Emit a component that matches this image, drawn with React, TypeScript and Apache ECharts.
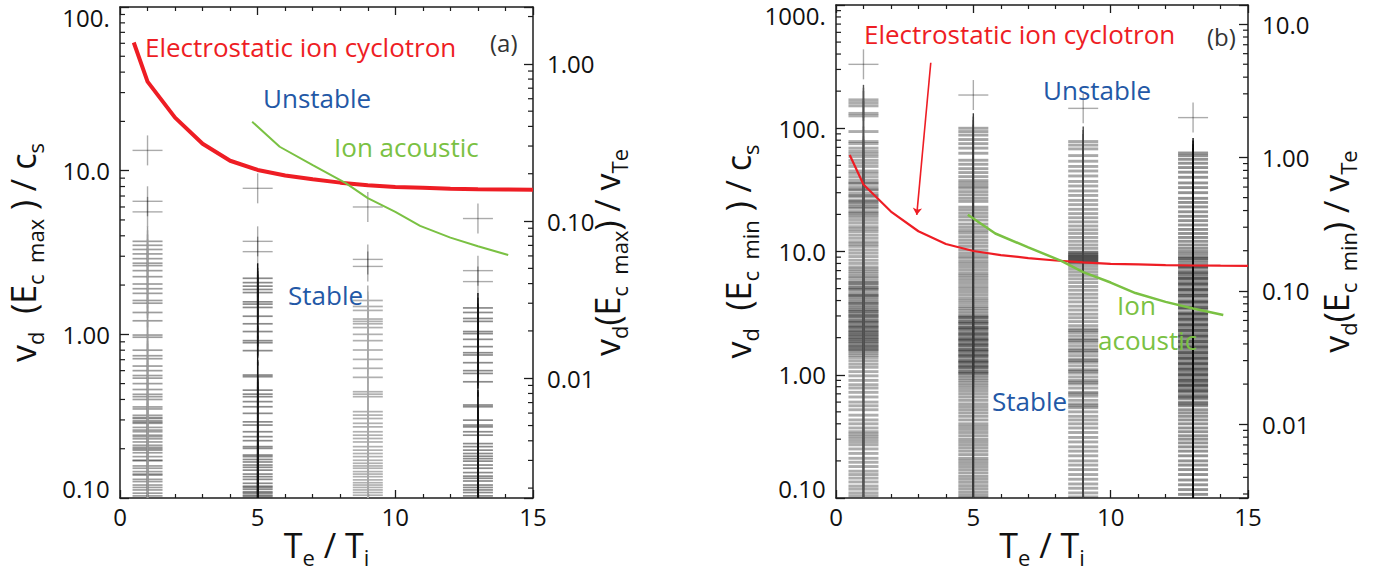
import React, { useEffect, useRef } from 'react';
import * as echarts from 'echarts';

const FONT = '"Open Sans", "Noto Sans", sans-serif';
const RED = '#ee1d24';
const BLUE = '#2358a6';
const GREEN = '#7ac143';

// ---------------- curves (shared by both panels) ----------------
const ecicX = [0.5, 1, 2, 3, 4, 5, 6, 7, 8, 9, 10, 11, 12, 13, 14, 15];
const ecicY = [60.7, 35, 21.1, 14.6, 11.5, 10.1, 9.35, 8.85, 8.45, 8.15, 7.95, 7.85, 7.75, 7.7, 7.67, 7.65];
const iaX = [4.8, 5.8, 7.0, 8.2, 9.0, 10.0, 10.9, 12.0, 13.0, 14.1];
const iaY = [19.9, 14.0, 10.8, 8.4, 6.8, 5.6, 4.6, 3.9, 3.45, 3.05];

// arrow in panel (b): [x, y] start and tip
const arrowB = [[3.45, 340], [2.94, 19.8]];

// ---------------- columns of crosses ----------------
const colX = [1, 5, 9, 13];

// panel (a)  v_d(E_c max)/c_s
const a1Sparse = [13.3, 6.5, 5.6];
const a1 = [3.7, 3.5, 3.3, 3.1, 2.9, 2.72, 2.63, 2.45, 2.25, 2.03, 1.9, 1.78, 1.61, 1.55, 1.36, 1.21, 0.99, 0.96, 0.8, 0.74, 0.71, 0.64, 0.6, 0.56, 0.54, 0.5, 0.46, 0.43, 0.416, 0.4, 0.36, 0.35, 0.32, 0.31, 0.306, 0.296, 0.29, 0.286, 0.27, 0.26, 0.254, 0.242, 0.237, 0.23, 0.22, 0.21, 0.204, 0.2, 0.196, 0.189, 0.179, 0.17, 0.169, 0.157, 0.152, 0.145, 0.14, 0.138, 0.13, 0.126, 0.12, 0.116, 0.112, 0.107, 0.103];
const a5Sparse = [7.8, 3.7, 3.2];
const a5 = [2.2, 2.07, 1.97, 1.88, 1.8, 1.58, 1.53, 1.46, 1.29, 1.16, 1.04, 0.915, 0.889, 0.795, 0.564, 0.551, 0.456, 0.431, 0.416, 0.388, 0.361, 0.329, 0.292, 0.279, 0.254, 0.237, 0.224, 0.206, 0.201, 0.183, 0.179, 0.172, 0.166, 0.159, 0.154, 0.148, 0.14, 0.135, 0.13, 0.123, 0.118, 0.116, 0.113, 0.109, 0.107, 0.104, 0.102];
const a9Sparse = [6.0, 2.87, 2.6];
const a9 = [1.61, 1.48, 1.4, 1.24, 1.2, 1.16, 1.1, 1.0, 0.915, 0.802, 0.703, 0.62, 0.546, 0.446, 0.431, 0.416, 0.337, 0.321, 0.306, 0.286, 0.272, 0.254, 0.242, 0.231, 0.22, 0.206, 0.196, 0.187, 0.179, 0.17, 0.163, 0.157, 0.152, 0.145, 0.14, 0.135, 0.129, 0.124, 0.12, 0.116, 0.112, 0.108, 0.104];
const a13Sparse = [5.1, 2.45, 2.1];
const a13 = [1.45, 1.36, 1.25, 1.2, 1.04, 1.01, 0.932, 0.841, 0.772, 0.748, 0.671, 0.6, 0.577, 0.513, 0.37, 0.361, 0.299, 0.279, 0.272, 0.254, 0.242, 0.215, 0.206, 0.196, 0.187, 0.18, 0.174, 0.168, 0.159, 0.152, 0.143, 0.136, 0.132, 0.127, 0.12, 0.116, 0.112, 0.108, 0.103];

// panel (b)  v_d(E_c min)/c_s
const b1Sparse = [330];
const b1 = [170, 161, 152, 132, 126, 94, 78, 75, 69, 65, 62, 59, 55, 52, 49, 45, 43, 40.5, 38, 36, 35.8, 33.6, 32, 31.6, 29.7, 28.5, 27.9, 26.2, 25.5, 24.9, 23.9, 23, 22.4, 21.1, 20.5, 19.8, 19.0, 18.0, 17.0, 15.9, 15.2, 14.5, 13.6, 12.8, 12.0, 11.5, 11.0, 10.3, 9.7, 9.1, 8.5, 8.0, 7.5, 7.2, 6.9, 6.6, 6.3, 6.1, 5.8, 5.6, 5.5, 5.3, 5.1, 5.0, 4.9, 4.7, 4.5, 4.4, 4.35, 4.2, 4.05, 3.9, 3.8, 3.75, 3.6, 3.5, 3.38, 3.3, 3.25, 3.15, 3.05, 3.0, 2.95, 2.85, 2.75, 2.7, 2.66, 2.58, 2.5, 2.45, 2.42, 2.35, 2.28, 2.24, 2.2, 2.13, 2.1, 2.06, 2.0, 1.96, 1.93, 1.87, 1.84, 1.8, 1.74, 1.7, 1.68, 1.62, 1.6, 1.56, 1.5, 1.44, 1.38, 1.3, 1.22, 1.15, 1.06, 0.98, 0.9, 0.83, 0.78, 0.72, 0.66, 0.6, 0.56, 0.52, 0.47, 0.43, 0.4, 0.37, 0.345, 0.33, 0.315, 0.3, 0.285, 0.27, 0.25, 0.23, 0.21, 0.195, 0.18, 0.165, 0.155, 0.145, 0.135, 0.125, 0.118, 0.11, 0.104];
const b5Sparse = [186];
const b5 = [100, 94, 88, 81, 75, 69, 62.7, 55, 51, 47, 43.7, 40.5, 37.6, 35.8, 34, 32.6, 30.6, 28.8, 27, 25.5, 22.9, 21.7, 20.4, 19.2, 18.0, 16.7, 15.7, 14.8, 14.1, 13.2, 12.4, 11.7, 11.0, 10.3, 9.7, 9.2, 8.8, 8.3, 7.9, 7.5, 7.1, 6.7, 6.4, 6.1, 5.8, 5.5, 5.2, 4.95, 4.7, 4.45, 4.2, 4.0, 3.8, 3.6, 3.45, 3.3, 3.15, 3.0, 2.95, 2.9, 2.8, 2.7, 2.65, 2.6, 2.5, 2.42, 2.38, 2.34, 2.26, 2.18, 2.14, 2.1, 2.03, 1.96, 1.93, 1.9, 1.84, 1.78, 1.75, 1.72, 1.66, 1.6, 1.58, 1.55, 1.5, 1.45, 1.43, 1.4, 1.35, 1.3, 1.28, 1.26, 1.22, 1.18, 1.16, 1.14, 1.1, 1.06, 1.04, 1.02, 0.98, 0.94, 0.9, 0.86, 0.82, 0.78, 0.74, 0.7, 0.66, 0.62, 0.58, 0.55, 0.52, 0.49, 0.46, 0.43, 0.4, 0.38, 0.36, 0.34, 0.32, 0.3, 0.285, 0.27, 0.255, 0.24, 0.225, 0.21, 0.2, 0.19, 0.18, 0.17, 0.16, 0.15, 0.142, 0.134, 0.126, 0.119, 0.112, 0.106, 0.101];
const b9Sparse = [145];
const b9 = [78, 73, 68, 60, 54, 49, 45, 41, 37, 34, 31, 28.5, 26, 24, 22, 20.3, 18.8, 17.4, 16.1, 15.0, 14.0, 13.0, 12.1, 11.3, 10.6, 9.9, 9.8, 9.5, 9.35, 9.2, 9.05, 8.9, 8.75, 8.6, 8.45, 8.3, 8.15, 8.0, 7.6, 7.2, 6.8, 6.4, 6.0, 5.6, 5.2, 4.85, 4.5, 4.2, 3.9, 3.6, 3.35, 3.1, 2.9, 2.7, 2.5, 2.35, 2.28, 2.2, 2.07, 1.95, 1.9, 1.83, 1.72, 1.62, 1.57, 1.52, 1.43, 1.34, 1.3, 1.26, 1.18, 1.1, 1.07, 1.03, 0.96, 0.9, 0.87, 0.84, 0.78, 0.72, 0.7, 0.67, 0.62, 0.58, 0.56, 0.54, 0.5, 0.46, 0.43, 0.4, 0.37, 0.34, 0.31, 0.285, 0.26, 0.24, 0.22, 0.2, 0.185, 0.17, 0.155, 0.142, 0.13, 0.12, 0.11, 0.102];
const b13Sparse = [122];
const b13 = [63, 60, 56, 52, 48, 44, 40, 36, 33, 30, 27, 25, 23, 21, 19.3, 17.8, 16.4, 15.1, 14.0, 13.0, 12.1, 11.3, 10.6, 10.0, 9.5, 9.0, 8.8, 8.5, 8.1, 7.7, 7.5, 7.3, 6.9, 6.7, 6.5, 6.2, 6.05, 5.9, 5.6, 5.45, 5.3, 5.0, 4.9, 4.75, 4.5, 4.4, 4.25, 4.0, 3.9, 3.8, 3.6, 3.5, 3.4, 3.2, 3.12, 3.05, 2.9, 2.82, 2.75, 2.6, 2.54, 2.47, 2.35, 2.29, 2.23, 2.12, 2.06, 2.01, 1.91, 1.86, 1.81, 1.72, 1.68, 1.63, 1.55, 1.51, 1.47, 1.4, 1.36, 1.33, 1.26, 1.23, 1.2, 1.14, 1.11, 1.08, 1.03, 1.0, 0.98, 0.93, 0.9, 0.88, 0.84, 0.82, 0.8, 0.76, 0.74, 0.72, 0.68, 0.66, 0.64, 0.6, 0.58, 0.56, 0.52, 0.49, 0.46, 0.43, 0.4, 0.37, 0.345, 0.32, 0.3, 0.28, 0.26, 0.24, 0.22, 0.2, 0.185, 0.17, 0.155, 0.14, 0.128, 0.117, 0.107];

// ---------------- axis tick labels ----------------
const leftTickValsA = [0.1, 1, 10, 100];
const leftTickTextA = ['0.10', '1.00', '10.0', '100.'];
const leftTickValsB = [0.1, 1, 10, 100, 1000];
const leftTickTextB = ['0.10', '1.00', '10.0', '100.', '1000.'];
const rightTickValsA = [0.01, 0.1, 1];
const rightTickTextA = ['0.01', '0.10', '1.00'];
const rightTickValsB = [0.01, 0.1, 1, 10];
const rightTickTextB = ['0.01', '0.10', '1.00', '10.0'];
const xTickVals = [0, 5, 10, 15];

const minorMult = [2, 3, 4, 5, 6, 7, 8, 9];
const decadesLeftA = [0.1, 1, 10];
const decadesLeftB = [0.1, 1, 10, 100];
const decadesRightA = [0.001, 0.01, 0.1, 1];
const decadesRightB = [0.001, 0.01, 0.1, 1, 10];

const ARM = 15;
const AXC = '#1c1c1c';

// rich styles: "t" sits low in a tall line (top label), "b" sits high (bottom label)
const labelRich = {
  n: { fontSize: 24, fontFamily: FONT, color: '#111', lineHeight: 28 },
  t: { fontSize: 24, fontFamily: FONT, color: '#111', lineHeight: 28, verticalAlign: 'bottom' },
  b: { fontSize: 24, fontFamily: FONT, color: '#111', lineHeight: 28, verticalAlign: 'top' },
  g: { fontSize: 1, lineHeight: 44 },
};

// formatter: label only the decades; nudge the extreme labels inside the frame
const makeFmt = (vals: number[], texts: string[], min: number, max: number) => (v: number) => {
  const lv = Math.log10(v);
  for (let i = 0; i < vals.length; i++) {
    if (Math.abs(lv - Math.log10(vals[i])) < 0.01) {
      if (Math.abs(lv - Math.log10(max)) < 0.01) return `{t|${texts[i]}}{g| }`;
      if (Math.abs(lv - Math.log10(min)) < 0.01) return `{b|${texts[i]}}{g| }`;
      return `{n|${texts[i]}}`;
    }
  }
  return '';
};

const crossSeries = (xi: number, yi: number, x: number, vals: number[], hColor: string, vColor: string, lw: number) => ({
  type: 'custom',
  xAxisIndex: xi,
  yAxisIndex: yi,
  clip: true,
  silent: true,
  z: 2,
  data: vals.map((v) => [x, v]),
  renderItem: (_p: any, api: any) => {
    const p = api.coord([api.value(0), api.value(1)]);
    return {
      type: 'group',
      children: [
        { type: 'line', shape: { x1: p[0] - ARM, y1: p[1], x2: p[0] + ARM, y2: p[1] }, style: { stroke: hColor, lineWidth: lw } },
        { type: 'line', shape: { x1: p[0], y1: p[1] - ARM, x2: p[0], y2: p[1] + ARM }, style: { stroke: vColor, lineWidth: 1.4 } },
      ],
    };
  },
});

const minorTickSeries = (xi: number, yi: number, xAt: number, decades: number[], dir: number) => {
  const vals: number[][] = [];
  decades.forEach((d) => minorMult.forEach((m) => vals.push([xAt, d * m])));
  return {
    type: 'custom',
    xAxisIndex: xi,
    yAxisIndex: yi,
    clip: true,
    silent: true,
    z: 6,
    data: vals,
    renderItem: (_p: any, api: any) => {
      const p = api.coord([api.value(0), api.value(1)]);
      return { type: 'line', shape: { x1: p[0], y1: p[1], x2: p[0] + dir * 5, y2: p[1] }, style: { stroke: AXC, lineWidth: 1.2 } };
    },
  };
};

const nameRich = {
  m: { fontSize: 34, fontFamily: FONT, color: '#111', lineHeight: 46, verticalAlign: 'middle' },
  s: { fontSize: 22, fontFamily: FONT, color: '#111', lineHeight: 21, verticalAlign: 'bottom' },
};

const xAxisPair = (gi: number) => [
  {
    gridIndex: gi,
    type: 'value',
    min: 0,
    max: 15,
    interval: 5,
    position: 'bottom',
    axisLine: { show: true, onZero: false, lineStyle: { color: AXC, width: 1.5 } },
    axisTick: { show: true, inside: true, length: 8, lineStyle: { color: AXC, width: 1.3 } },
    minorTick: { show: true, splitNumber: 5, length: 4, lineStyle: { color: AXC, width: 1.2 } },
    splitLine: { show: false },
    minorSplitLine: { show: false },
    axisLabel: { fontSize: 24, color: '#111', fontFamily: FONT, margin: 6, formatter: (v: number) => (xTickVals.includes(v) ? String(v) : '') },
    name: '{m|T}{s|e}{m| / T}{s|i}',
    nameLocation: 'middle',
    nameGap: 24,
    nameMoveOverlap: false,
    nameTextStyle: { rich: nameRich },
  },
  {
    gridIndex: gi,
    type: 'value',
    min: 0,
    max: 15,
    interval: 5,
    position: 'top',
    axisLine: { show: true, onZero: false, lineStyle: { color: AXC, width: 1.5 } },
    axisTick: { show: true, inside: true, length: 8, lineStyle: { color: AXC, width: 1.3 } },
    minorTick: { show: true, splitNumber: 5, length: 4, lineStyle: { color: AXC, width: 1.2 } },
    splitLine: { show: false },
    axisLabel: { show: false },
  },
];

const yAxis = (gi: number, pos: string, min: number, max: number, vals: number[], texts: string[], name: string, gap: number) => ({
  gridIndex: gi,
  type: 'log',
  logBase: 10,
  min,
  max,
  position: pos,
  axisLine: { show: true, onZero: false, lineStyle: { color: AXC, width: 1.5 } },
  axisTick: { show: true, inside: true, length: 9, lineStyle: { color: AXC, width: 1.3 } },
  splitLine: { show: false },
  axisLabel: { fontSize: 24, color: '#111', fontFamily: FONT, margin: pos === 'left' ? 10 : 14, formatter: makeFmt(vals, texts, min, max), rich: labelRich },
  name,
  nameLocation: 'middle',
  nameRotate: 90,
  nameGap: gap,
  nameMoveOverlap: false,
  nameTextStyle: { rich: nameRich },
});

const txt = (text: string, x: number, y: number, color: string, size: number) => ({
  type: 'text',
  x,
  y,
  z: 100,
  silent: true,
  style: {
    text,
    fill: color,
    font: `${size}px ${FONT}`,
    fontSize: size,
    fontFamily: FONT,
    textAlign: 'left',
    textVerticalAlign: 'middle',
    align: 'left',
    verticalAlign: 'middle',
  },
});

export default function App() {
  const ref = useRef<HTMLDivElement>(null);
  useEffect(() => {
    if (!ref.current) return;
    const chart = echarts.init(ref.current, undefined, { renderer: 'svg' });
    const ecic = ecicX.map((x, i) => [x, ecicY[i]]);
    const ia = iaX.map((x, i) => [x, iaY[i]]);
    const sparseCol = 'rgba(0,0,0,0.33)';
    const option: any = {
      animation: false,
      backgroundColor: '#ffffff',
      grid: [
        { left: 120, top: 7, width: 413, height: 491 },
        { left: 836, top: 5, width: 412, height: 493 },
      ],
      xAxis: [...xAxisPair(0), ...xAxisPair(1)],
      yAxis: [
        yAxis(0, 'left', 0.1, 100, leftTickValsA, leftTickTextA, '{m|v}{s|d}{m|  (E}{s|c  max}{m| ) / c}{s|s}', 74),
        yAxis(0, 'right', 0.00173, 2.3, rightTickValsA, rightTickTextA, '{m|v}{s|d}{m|(E}{s|c  max}{m|) / v}{s|Te}', 51),
        yAxis(1, 'left', 0.1, 1000, leftTickValsB, leftTickTextB, '{m|v}{s|d}{m|  (E}{s|c  min}{m| ) / c}{s|s}', 75),
        yAxis(1, 'right', 0.0028, 13.9, rightTickValsB, rightTickTextB, '{m|v}{s|d}{m|(E}{s|c  min}{m|) / v}{s|Te}', 65),
      ],
      series: [
        // panel (a) crosses
        crossSeries(0, 0, colX[0], a1Sparse, sparseCol, sparseCol, 1.4),
        crossSeries(0, 0, colX[0], a1, 'rgba(50,50,50,0.48)', '#9a9a9a', 1.7),
        crossSeries(0, 0, colX[1], a5Sparse, sparseCol, sparseCol, 1.4),
        crossSeries(0, 0, colX[1], a5, 'rgba(30,30,30,0.52)', '#111111', 1.7),
        crossSeries(0, 0, colX[2], a9Sparse, sparseCol, sparseCol, 1.4),
        crossSeries(0, 0, colX[2], a9, 'rgba(90,90,90,0.48)', '#a8a8a8', 1.7),
        crossSeries(0, 0, colX[3], a13Sparse, sparseCol, sparseCol, 1.4),
        crossSeries(0, 0, colX[3], a13, 'rgba(30,30,30,0.52)', '#111111', 1.7),
        // panel (b) crosses
        crossSeries(2, 2, colX[0], b1Sparse, sparseCol, sparseCol, 1.4),
        crossSeries(2, 2, colX[0], b1, 'rgba(40,40,40,0.38)', '#555555', 2.9),
        crossSeries(2, 2, colX[1], b5Sparse, sparseCol, sparseCol, 1.4),
        crossSeries(2, 2, colX[1], b5, 'rgba(30,30,30,0.4)', '#3a3a3a', 2.9),
        crossSeries(2, 2, colX[2], b9Sparse, sparseCol, sparseCol, 1.4),
        crossSeries(2, 2, colX[2], b9, 'rgba(30,30,30,0.38)', '#444444', 2.9),
        crossSeries(2, 2, colX[3], b13Sparse, sparseCol, sparseCol, 1.4),
        crossSeries(2, 2, colX[3], b13, 'rgba(20,20,20,0.46)', '#0a0a0a', 2.9),
        // curves
        { type: 'line', xAxisIndex: 0, yAxisIndex: 0, data: ecic, showSymbol: false, z: 4, lineStyle: { color: RED, width: 4 } },
        { type: 'line', xAxisIndex: 0, yAxisIndex: 0, data: ia, showSymbol: false, z: 4, lineStyle: { color: GREEN, width: 2 } },
        { type: 'line', xAxisIndex: 2, yAxisIndex: 2, data: ecic, showSymbol: false, z: 4, lineStyle: { color: RED, width: 2.2 } },
        { type: 'line', xAxisIndex: 2, yAxisIndex: 2, data: ia, showSymbol: false, z: 4, lineStyle: { color: GREEN, width: 2.5 } },
        {
          type: 'lines',
          coordinateSystem: 'cartesian2d',
          xAxisIndex: 2,
          yAxisIndex: 2,
          z: 5,
          symbol: ['none', 'arrow'],
          symbolSize: 7,
          lineStyle: { color: RED, width: 1.6, opacity: 1 },
          data: [{ coords: arrowB }],
        },
        // minor ticks on log axes
        minorTickSeries(0, 0, 0, decadesLeftA, 1),
        minorTickSeries(0, 1, 15, decadesRightA, -1),
        minorTickSeries(2, 2, 0, decadesLeftB, 1),
        minorTickSeries(2, 3, 15, decadesRightB, -1),
      ],
      graphic: [
        txt('Electrostatic ion cyclotron', 145, 47, RED, 26),
        txt('(a)', 490, 42, '#333333', 24),
        txt('Unstable', 263, 98, BLUE, 26),
        txt('Ion acoustic', 334, 147, GREEN, 26),
        txt('Stable', 288, 295, BLUE, 26),
        txt('Electrostatic ion cyclotron', 864, 34, RED, 26),
        txt('(b)', 1207, 36, '#333333', 24),
        txt('Unstable', 1043, 90, BLUE, 26),
        txt('Ion', 1117, 305, GREEN, 26),
        txt('acoustic', 1098, 340, GREEN, 26),
        txt('Stable', 992, 401, BLUE, 26),
      ],
    };
    chart.setOption(option);
    return () => chart.dispose();
  }, []);
  return <div ref={ref} style={{ position: 'absolute', left: 0, top: 0, width: 1388, height: 577 }} />;
}
